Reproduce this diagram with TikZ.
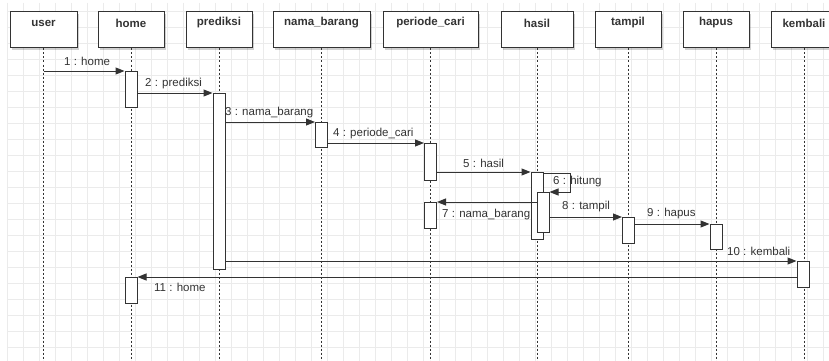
\documentclass[tikz,border=0pt]{standalone}
\usepackage{fontspec}
\setmainfont{Liberation Sans}
\usetikzlibrary{arrows.meta,shadows}
\definecolor{ink}{HTML}{333333}
\definecolor{gridc}{HTML}{EBEBEB}
\tikzset{
  headbox/.style={draw=ink, line width=1pt, fill=white, minimum width=66pt, minimum height=36pt, inner sep=0pt,
    drop shadow={shadow xshift=2pt, shadow yshift=-2pt, opacity=0.18, fill=black}},
  headlbl/.style={font=\fontsize{11.5}{13}\selectfont\bfseries, text=ink, yshift=7pt},
  life/.style={draw=ink, line width=1pt, dash pattern=on 2pt off 2pt},
  act/.style={draw=ink, line width=1pt, fill=white, minimum width=12pt, inner sep=0pt, anchor=north},
  msg/.style={draw=ink, line width=1pt, -{Triangle[length=9pt,width=7pt]}},
  mlbl/.style={font=\fontsize{11.5}{13}\selectfont, text=ink, anchor=west, inner sep=0pt},
  gline/.style={draw=gridc, line width=0.8pt}
}
\begin{document}
\begin{tikzpicture}[x=1pt,y=-1pt]
\useasboundingbox (0,0) rectangle (829,361);
\fill[white] (0,0) rectangle (829,361);
\begin{scope}
\clip (0,0) rectangle (829,361);
% grid
\foreach \i in {0,...,51} \draw[gline] (7+16*\i,3) -- (7+16*\i,361);
\foreach \j in {0,...,22} \draw[gline] (7,11+16*\j) -- (829,11+16*\j);
\coordinate (bot) at (0,361);
% heads
\node[headbox, minimum width=67pt, label={[headlbl]center:user}] (user) at (43.5,30) {};
\node[headbox, label={[headlbl]center:home}] (home) at (131,30) {};
\node[headbox, label={[headlbl]center:prediksi}] (pred) at (219,30) {};
\node[headbox, minimum width=97pt, label={[headlbl]center:nama\_barang}] (nama) at (321.5,30) {};
\node[headbox, minimum width=95pt, label={[headlbl]center:periode\_cari}] (peri) at (430.5,30) {};
\node[headbox, minimum width=72pt, label={[headlbl]center:hasil}] (hasil) at (537,30) {};
\node[headbox, label={[headlbl]center:tampil}] (tampil) at (628,30) {};
\node[headbox, label={[headlbl]center:hapus}] (hapus) at (716,30) {};
\node[headbox, label={[headlbl]center:kembali}] (kemb) at (804,30) {};
% lifelines
\draw[life] (user.south) -- (user.south |- bot);
\draw[life] (home.south) -- (home.south |- bot);
\draw[life] (pred.south) -- (pred.south |- bot);
\draw[life] (nama.south) -- (nama.south |- bot);
\draw[life] (peri.south) -- (peri.south |- bot);
\draw[life] (hasil.south) -- (hasil.south |- bot);
\draw[life] (tampil.south) -- (tampil.south |- bot);
\draw[life] (hapus.south) -- (hapus.south |- bot);
\draw[life] (kemb.south) -- (kemb.south |- bot);
% activations
\node[act, minimum height=36pt] (hA1) at (131,71) {};
\node[act, minimum height=176pt] (pA1) at (219,93) {};
\node[act, minimum height=25pt] (nA1) at (321.5,122) {};
\node[act, minimum height=37pt] (cA1) at (430.5,143) {};
\node[act, minimum height=67pt] (sA1) at (537,172) {};
\node[act, minimum height=40pt] (sA2) at (543,192) {};
\node[act, minimum height=26pt] (cA2) at (430.5,202) {};
\node[act, minimum height=26pt] (tA1) at (628.5,217) {};
\node[act, minimum height=25pt] (aA1) at (716,224) {};
\node[act, minimum height=26pt] (kA1) at (803,261) {};
\node[act, minimum height=26pt] (hA2) at (131,277) {};
% messages
\draw[msg] (user.south |- hA1.north) -- (hA1.north west);
\draw[msg] (hA1.east |- pA1.north) -- (pA1.north west);
\draw[msg] (pA1.east |- nA1.north) -- (nA1.north west);
\draw[msg] (nA1.east |- cA1.north) -- (cA1.north west);
\draw[msg] (cA1.east |- sA1.north) -- (sA1.north west);
\draw[msg] ([yshift=-1pt]sA1.north east) -- ++(27,0) |- (sA2.north east);
\draw[msg] (sA2.west |- cA2.north) -- (cA2.north east);
\draw[msg] (sA2.east |- tA1.north) -- (tA1.north west);
\draw[msg] (tA1.east |- aA1.north) -- (aA1.north west);
\draw[msg] (pA1.east |- kA1.north) -- (kA1.north west);
\draw[msg] (kA1.west |- hA2.north) -- (hA2.north east);
% labels
\node[mlbl] (m1) at (64,61) {1 : home};
\node[mlbl] (m2) at (145,84) {2 : prediksi};
\node[mlbl] (m3) at (225,113) {3 : nama\_barang};
\node[mlbl] (m4) at (333,134) {4 : periode\_cari};
\node[mlbl] (m5) at (463,163) {5 : hasil};
\node[mlbl] (m6) at (553,182) {6 : hitung};
\node[mlbl] (m7) at (442,215) {7 : nama\_barang};
\node[mlbl] (m8) at (562,207) {8 : tampil};
\node[mlbl] (m9) at (647,214) {9 : hapus};
\node[mlbl] (m10) at (727,251) {10 : kembali};
\node[mlbl] (m11) at (154,287) {11 : home};
\end{scope}
\end{tikzpicture}
\end{document}
